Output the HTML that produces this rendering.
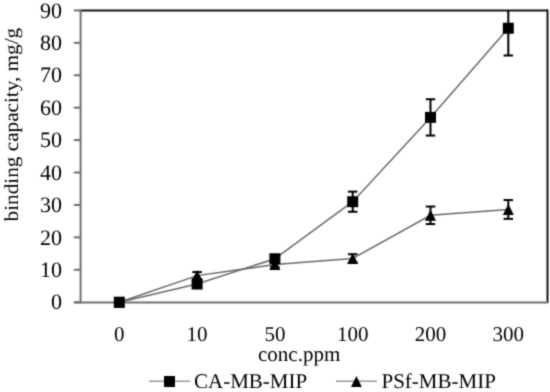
<!DOCTYPE html><html><head><meta charset="utf-8"><style>html,body{margin:0;padding:0;background:#fff;}svg{display:block;will-change:transform}text{font-family:"Liberation Serif",serif;font-size:21px;fill:#000;text-rendering:geometricPrecision}</style></head><body>
<svg width="550" height="392" viewBox="0 0 550 392">
<defs><clipPath id="pc"><rect x="80" y="10" width="468" height="293"/></clipPath><filter id="bl" x="0" y="0" width="550" height="392" filterUnits="userSpaceOnUse" color-interpolation-filters="sRGB"><feConvolveMatrix order="3" kernelMatrix="1 4 1 4 16 4 1 4 1" divisor="36" edgeMode="none"/></filter></defs>
<g filter="url(#bl)"><rect x="0" y="0" width="550" height="392" fill="#fff"/>
<line x1="80" y1="10.5" x2="548" y2="10.5" stroke="#141414" stroke-width="2"/>
<line x1="547.5" y1="9.5" x2="547.5" y2="303" stroke="#141414" stroke-width="2"/>
<line x1="80.6" y1="10" x2="80.6" y2="303.4" stroke="#707070" stroke-width="2"/>
<line x1="74" y1="302.4" x2="548" y2="302.4" stroke="#707070" stroke-width="2"/>
<line x1="73.8" y1="302.20" x2="80" y2="302.20" stroke="#707070" stroke-width="2"/>
<text x="62" y="309.40" text-anchor="end" style="font-size:22px">0</text>
<line x1="73.8" y1="269.78" x2="80" y2="269.78" stroke="#707070" stroke-width="2"/>
<text x="62" y="276.98" text-anchor="end" style="font-size:22px">10</text>
<line x1="73.8" y1="237.36" x2="80" y2="237.36" stroke="#707070" stroke-width="2"/>
<text x="62" y="244.56" text-anchor="end" style="font-size:22px">20</text>
<line x1="73.8" y1="204.93" x2="80" y2="204.93" stroke="#707070" stroke-width="2"/>
<text x="62" y="212.13" text-anchor="end" style="font-size:22px">30</text>
<line x1="73.8" y1="172.51" x2="80" y2="172.51" stroke="#707070" stroke-width="2"/>
<text x="62" y="179.71" text-anchor="end" style="font-size:22px">40</text>
<line x1="73.8" y1="140.09" x2="80" y2="140.09" stroke="#707070" stroke-width="2"/>
<text x="62" y="147.29" text-anchor="end" style="font-size:22px">50</text>
<line x1="73.8" y1="107.67" x2="80" y2="107.67" stroke="#707070" stroke-width="2"/>
<text x="62" y="114.87" text-anchor="end" style="font-size:22px">60</text>
<line x1="73.8" y1="75.24" x2="80" y2="75.24" stroke="#707070" stroke-width="2"/>
<text x="62" y="82.44" text-anchor="end" style="font-size:22px">70</text>
<line x1="73.8" y1="42.82" x2="80" y2="42.82" stroke="#707070" stroke-width="2"/>
<text x="62" y="50.02" text-anchor="end" style="font-size:22px">80</text>
<line x1="73.8" y1="10.40" x2="80" y2="10.40" stroke="#707070" stroke-width="2"/>
<text x="62" y="17.60" text-anchor="end" style="font-size:22px">90</text>
<text x="119.30" y="341" text-anchor="middle">0</text>
<text x="197.10" y="341" text-anchor="middle">10</text>
<text x="274.90" y="341" text-anchor="middle">50</text>
<text x="352.70" y="341" text-anchor="middle">100</text>
<text x="430.50" y="341" text-anchor="middle">200</text>
<text x="508.30" y="341" text-anchor="middle">300</text>
<text x="258" y="360.5">conc.ppm</text>
<text transform="translate(17.9,221.4) rotate(-90) scale(1.01,0.95)">binding capacity, mg/g</text>
<g clip-path="url(#pc)">
<polyline points="119.30,302.20 197.10,275.61 274.90,264.59 352.70,258.43 430.50,215.31 508.30,209.47" fill="none" stroke="#6a6a6a" stroke-width="1.5"/>
<polyline points="119.30,302.20 197.10,284.04 274.90,258.75 352.70,201.69 430.50,117.39 508.30,28.23" fill="none" stroke="#6a6a6a" stroke-width="1.5"/>
<line x1="197.10" y1="272.05" x2="197.10" y2="279.18" stroke="#000" stroke-width="2"/>
<line x1="192.35" y1="272.05" x2="201.85" y2="272.05" stroke="#000" stroke-width="2"/>
<line x1="192.35" y1="279.18" x2="201.85" y2="279.18" stroke="#000" stroke-width="2"/>
<line x1="274.90" y1="262.00" x2="274.90" y2="267.18" stroke="#000" stroke-width="2"/>
<line x1="270.15" y1="262.00" x2="279.65" y2="262.00" stroke="#000" stroke-width="2"/>
<line x1="270.15" y1="267.18" x2="279.65" y2="267.18" stroke="#000" stroke-width="2"/>
<line x1="352.70" y1="254.22" x2="352.70" y2="262.64" stroke="#000" stroke-width="2"/>
<line x1="347.95" y1="254.22" x2="357.45" y2="254.22" stroke="#000" stroke-width="2"/>
<line x1="347.95" y1="262.64" x2="357.45" y2="262.64" stroke="#000" stroke-width="2"/>
<line x1="430.50" y1="206.55" x2="430.50" y2="224.06" stroke="#000" stroke-width="2"/>
<line x1="425.75" y1="206.55" x2="435.25" y2="206.55" stroke="#000" stroke-width="2"/>
<line x1="425.75" y1="224.06" x2="435.25" y2="224.06" stroke="#000" stroke-width="2"/>
<line x1="508.30" y1="200.07" x2="508.30" y2="218.87" stroke="#000" stroke-width="2"/>
<line x1="503.55" y1="200.07" x2="513.05" y2="200.07" stroke="#000" stroke-width="2"/>
<line x1="503.55" y1="218.87" x2="513.05" y2="218.87" stroke="#000" stroke-width="2"/>
<line x1="352.70" y1="191.64" x2="352.70" y2="211.74" stroke="#000" stroke-width="2"/>
<line x1="347.95" y1="191.64" x2="357.45" y2="191.64" stroke="#000" stroke-width="2"/>
<line x1="347.95" y1="211.74" x2="357.45" y2="211.74" stroke="#000" stroke-width="2"/>
<line x1="430.50" y1="99.24" x2="430.50" y2="135.55" stroke="#000" stroke-width="2"/>
<line x1="425.75" y1="99.24" x2="435.25" y2="99.24" stroke="#000" stroke-width="2"/>
<line x1="425.75" y1="135.55" x2="435.25" y2="135.55" stroke="#000" stroke-width="2"/>
<line x1="508.30" y1="1.00" x2="508.30" y2="55.47" stroke="#000" stroke-width="2"/>
<line x1="503.55" y1="1.00" x2="513.05" y2="1.00" stroke="#000" stroke-width="2"/>
<line x1="503.55" y1="55.47" x2="513.05" y2="55.47" stroke="#000" stroke-width="2"/>
</g>
<path d="M119.30,296.70 L124.80,307.70 L113.80,307.70Z" fill="#000"/>
<path d="M197.10,270.11 L202.60,281.11 L191.60,281.11Z" fill="#000"/>
<path d="M274.90,259.09 L280.40,270.09 L269.40,270.09Z" fill="#000"/>
<path d="M352.70,252.93 L358.20,263.93 L347.20,263.93Z" fill="#000"/>
<path d="M430.50,209.81 L436.00,220.81 L425.00,220.81Z" fill="#000"/>
<path d="M508.30,203.97 L513.80,214.97 L502.80,214.97Z" fill="#000"/>
<rect x="113.80" y="296.70" width="11" height="11" fill="#000"/>
<rect x="191.60" y="278.54" width="11" height="11" fill="#000"/>
<rect x="269.40" y="253.25" width="11" height="11" fill="#000"/>
<rect x="347.20" y="196.19" width="11" height="11" fill="#000"/>
<rect x="425.00" y="111.89" width="11" height="11" fill="#000"/>
<rect x="502.80" y="22.73" width="11" height="11" fill="#000"/>
<line x1="149" y1="381.2" x2="190" y2="381.2" stroke="#9a9a9a" stroke-width="1.5"/>
<rect x="164" y="376" width="11" height="11" fill="#000"/>
<text x="194" y="388">CA-MB-MIP</text>
<line x1="336" y1="381.2" x2="377" y2="381.2" stroke="#9a9a9a" stroke-width="1.5"/>
<path d="M356.4,376 L361.8,387 L351,387Z" fill="#000"/>
<text x="381.5" y="388">PSf-MB-MIP</text>
</g></svg></body></html>
